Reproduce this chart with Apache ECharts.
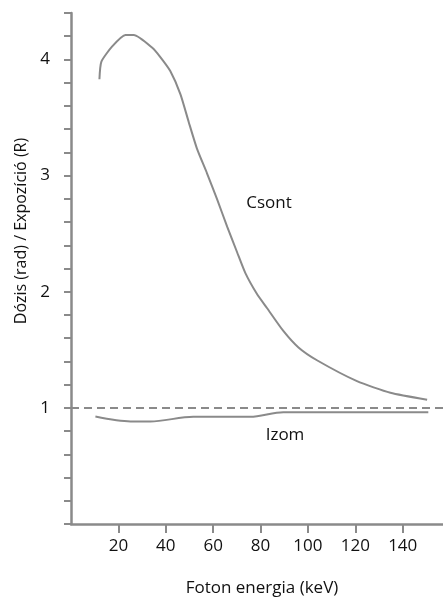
<!DOCTYPE html>
<html>
<head>
<meta charset="utf-8">
<script src="https://cdn.jsdelivr.net/npm/echarts@6/dist/echarts.min.js"></script>
<style>html,body{margin:0;padding:0;background:#fff}#c{width:443px;height:598px}</style>
</head>
<body>
<div id="c"></div>
<script>
var xTicks = [20, 40, 60, 80, 100, 120, 140];
var yTickLabels = [1, 2, 3, 4];
var csontX = [12, 12.8, 17.3, 23, 26.5, 34.3, 37.7, 41.9, 46.2, 49.7, 53.2, 57.4, 61.6, 65.9, 70.1, 73.6, 78.5, 82.7, 89.7, 96, 103.8, 120.7, 134.8, 150.3];
var csontY = [3.83, 3.98, 4.11, 4.21, 4.21, 4.10, 4.02, 3.90, 3.70, 3.46, 3.23, 3.02, 2.80, 2.56, 2.34, 2.16, 1.98, 1.86, 1.66, 1.52, 1.41, 1.23, 1.13, 1.07];
var izomX = [10.3, 25.1, 33.5, 51.6, 75.7, 89.6, 150.8];
var izomY = [0.925, 0.883, 0.883, 0.923, 0.923, 0.963, 0.963];
var refValue = 1;

function pairs(xs, ys) { return xs.map(function (x, i) { return [x, ys[i]]; }); }

var C = '#8a8a8a';
var F = 'Open Sans';
var chart = echarts.init(document.getElementById('c'), null, {renderer: 'canvas'});
chart.setOption({
  animation: false,
  backgroundColor: '#fff',
  grid: {left: 71, right: 0, top: 13, bottom: 74, containLabel: false, outerBoundsMode: 'none'},
  xAxis: {
    type: 'value', min: 0, max: 157, interval: 20,
    axisLine: {show: true, lineStyle: {color: C, width: 2.5}},
    axisTick: {show: true, length: 9, lineStyle: {color: C, width: 2}, customValues: xTicks},
    axisLabel: {fontFamily: F, fontSize: 17, color: '#111', margin: 14, customValues: xTicks},
    splitLine: {show: false}
  },
  yAxis: {
    type: 'value', min: 0, max: 4.4, interval: 0.2,
    axisLine: {show: true, lineStyle: {color: C, width: 2.5}},
    axisTick: {show: true, length: 7, lineStyle: {color: C, width: 2}},
    axisLabel: {fontFamily: F, fontSize: 17, color: '#111', margin: 21, customValues: yTickLabels},
    splitLine: {show: false}
  },
  graphic: [
    {type: 'text', x: 21, y: 231, rotation: Math.PI / 2, style: {text: 'Dózis (rad) / Expozíció (R)', font: '16px "Open Sans"', fill: '#111', align: 'center', verticalAlign: 'middle'}},
    {type: 'text', x: 262, y: 588, style: {text: 'Foton energia (keV)', font: '17px "Open Sans"', fill: '#111', align: 'center', verticalAlign: 'middle'}},
    {type: 'text', x: 269, y: 203, style: {text: 'Csont', font: '17px "Open Sans"', fill: '#111', align: 'center', verticalAlign: 'middle'}},
    {type: 'text', x: 285, y: 435, style: {text: 'Izom', font: '17px "Open Sans"', fill: '#111', align: 'center', verticalAlign: 'middle'}}
  ],
  series: [
    {
      type: 'line', data: pairs(csontX, csontY), smooth: 0.2, showSymbol: false,
      lineStyle: {color: C, width: 2}
    },
    {
      type: 'line', data: pairs(izomX, izomY), smooth: 0.3, showSymbol: false,
      lineStyle: {color: C, width: 2},
      markLine: {
        silent: true, symbol: ['none', 'none'], label: {show: false},
        lineStyle: {color: C, width: 2, type: [8, 5]},
        data: [{yAxis: refValue}]
      }
    }
  ]
});
</script>
</body>
</html>
